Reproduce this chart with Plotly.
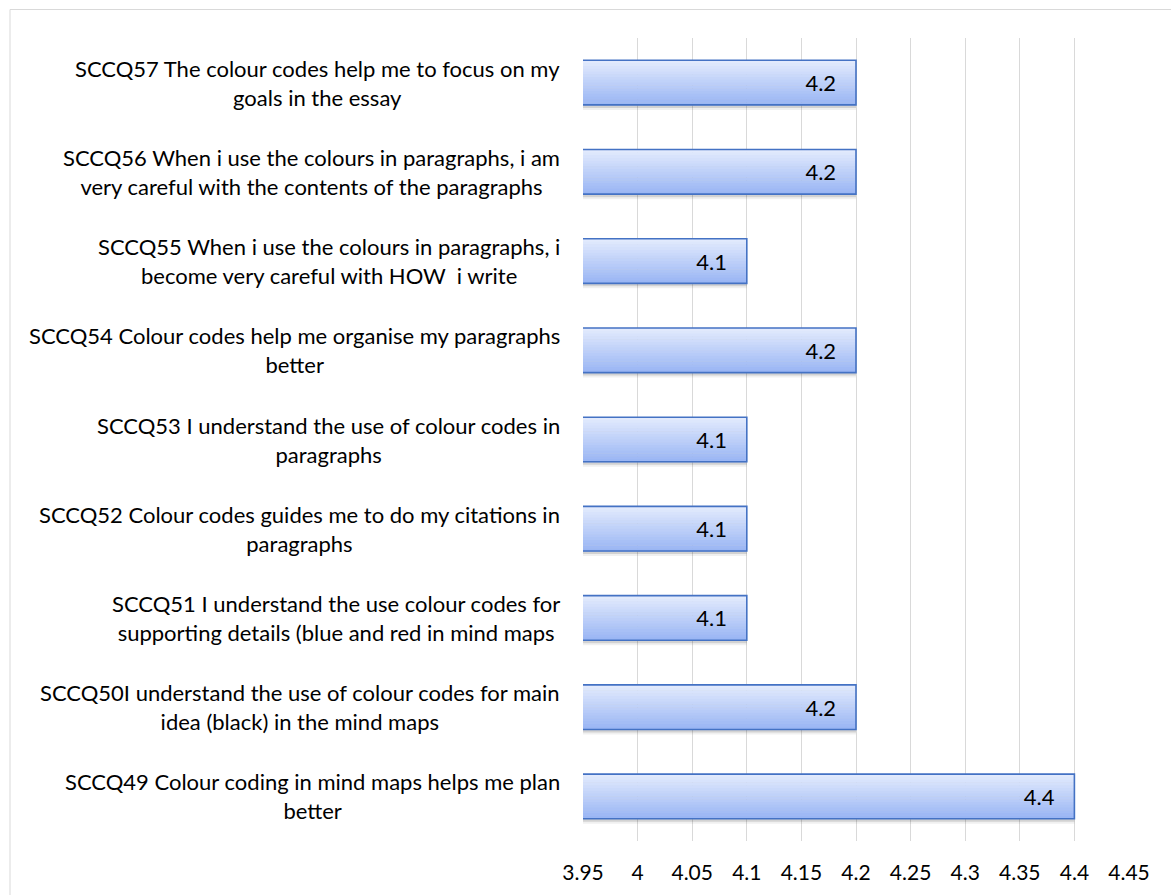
import plotly.graph_objects as go

# Survey items (top to bottom) and their mean scores
codes = ["SCCQ57", "SCCQ56", "SCCQ55", "SCCQ54", "SCCQ53",
         "SCCQ52", "SCCQ51", "SCCQ50", "SCCQ49"]
labels = [
    "SCCQ57 The colour codes help me to focus on my<br>goals in the essay",
    "SCCQ56 When i use the colours in paragraphs, i am<br>very careful with the contents of the paragraphs",
    "SCCQ55 When i use the colours in paragraphs, i<br>become very careful with HOW\u00a0 i write",
    "SCCQ54 Colour codes help me organise my paragraphs<br>better",
    "SCCQ53 I understand the use of colour codes in<br>paragraphs",
    "SCCQ52 Colour codes guides me to do my citations in<br>paragraphs",
    "SCCQ51 I understand the use colour codes for<br>supporting details (blue and red in mind maps",
    "SCCQ50I understand the use of colour codes for main<br>idea (black) in the mind maps",
    "SCCQ49 Colour coding in mind maps helps me plan<br>better",
]
scores = [4.2, 4.2, 4.1, 4.2, 4.1, 4.1, 4.1, 4.2, 4.4]
tick_vals = [3.95, 4.0, 4.05, 4.1, 4.15, 4.2, 4.25, 4.3, 4.35, 4.4, 4.45]
tick_text = ["3.95", "4", "4.05", "4.1", "4.15", "4.2", "4.25", "4.3", "4.35", "4.4", "4.45"]

FONT = "Lato, Carlito, Calibri, sans-serif"
W, H = 1171, 895
M_L, M_R, M_T, M_B = 583, 42, 38, 54
BAR_W = 0.5
band_px = (H - M_T - M_B) / len(codes)

fig = go.Figure()

# soft drop shadow beneath each bar
for shift, alpha in [(5, 0.06), (3, 0.12)]:
    fig.add_trace(go.Bar(
        y=codes, x=scores, orientation="h",
        width=BAR_W, offset=-BAR_W / 2 + shift / band_px,
        marker=dict(color=f"rgba(0,0,0,{alpha})", line=dict(width=0)),
        hoverinfo="skip", showlegend=False,
    ))

# vertical gradient fill built from thin horizontal strips
top_rgb = (226, 234, 253)
bot_rgb = (154, 182, 244)
N = 16
dw = BAR_W / N
for k in range(N):
    t = k / (N - 1)
    c = tuple(round(top_rgb[i] + (bot_rgb[i] - top_rgb[i]) * t) for i in range(3))
    fig.add_trace(go.Bar(
        y=codes, x=scores, orientation="h",
        width=dw * 1.15, offset=-BAR_W / 2 + k * dw,
        marker=dict(color=f"rgb{c}", line=dict(width=0)),
        hoverinfo="skip", showlegend=False,
    ))

# bar outline with value labels
fig.add_trace(go.Bar(
    y=codes, x=scores, orientation="h",
    width=BAR_W, offset=-BAR_W / 2,
    marker=dict(color="rgba(0,0,0,0)", line=dict(color="#4472C4", width=1.6)),
    text=[f"{v:g}" for v in scores],
    texttemplate="%{text}\u00a0\u00a0\u00a0",
    textposition="inside", insidetextanchor="end",
    textfont=dict(family=FONT, size=22, color="#000000"),
    hoverinfo="skip", showlegend=False,
))

# category labels, centred multi-line text right of the axis
for code, lab in zip(codes, labels):
    fig.add_annotation(
        x=0, xref="paper", y=code, yref="y",
        text=lab, showarrow=False, xanchor="right", yanchor="middle",
        align="center", xshift=-21,
        font=dict(family=FONT, size=22, color="#000000"),
    )

# light frame around the whole chart area
pw = W - M_L - M_R
ph = H - M_T - M_B
fig.add_shape(
    type="rect", xref="paper", yref="paper",
    x0=(10 - M_L) / pw, x1=1.3,
    y0=-0.3, y1=1 + (M_T - 9.5) / ph,
    line=dict(color="#D9D9D9", width=1), fillcolor="rgba(0,0,0,0)",
    layer="below",
)

fig.update_layout(
    width=W, height=H,
    margin=dict(l=M_L, r=M_R, t=M_T, b=M_B),
    paper_bgcolor="white", plot_bgcolor="white",
    barmode="overlay", bargap=0.5,
    showlegend=False, hovermode=False,
    font=dict(family=FONT, color="#000000"),
    xaxis=dict(
        range=[3.95, 4.45], tickvals=tick_vals, ticktext=tick_text,
        showgrid=True, gridcolor="#D9D9D9", gridwidth=1,
        zeroline=False, showline=False,
        ticks="outside", ticklen=13, tickcolor="rgba(0,0,0,0)",
        tickfont=dict(family=FONT, size=21, color="#000000"),
    ),
    yaxis=dict(
        categoryorder="array", categoryarray=codes, autorange="reversed",
        showticklabels=False, showgrid=False, zeroline=False, showline=False,
    ),
)

fig.write_html("out.html")
